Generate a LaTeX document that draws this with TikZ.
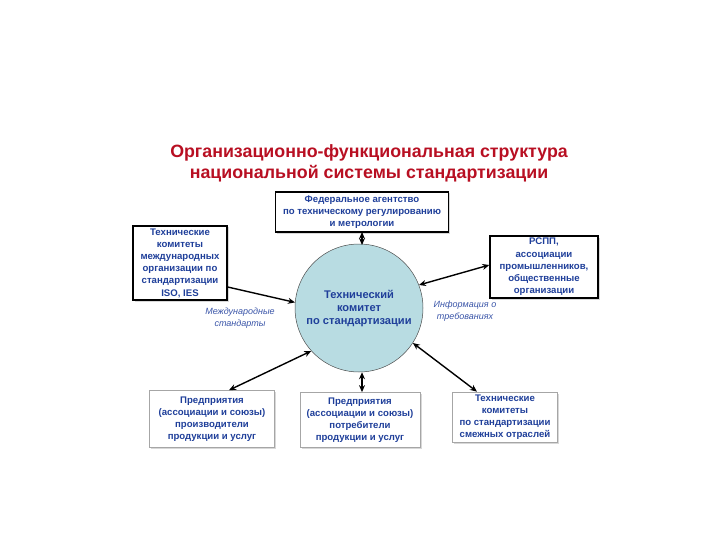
\documentclass[tikz,border=0pt]{standalone}
\usepackage{fontspec}
\setmainfont{Liberation Sans}
\usetikzlibrary{arrows.meta,shadows}
\definecolor{ttl}{HTML}{B80F22}
\definecolor{txt}{HTML}{1F3F9A}
\definecolor{lbl}{HTML}{3A55A8}
\definecolor{circ}{HTML}{B8DCE2}
\tikzset{
  box/.style={draw=black, line width=1.3pt, fill=white, align=center, inner sep=2pt,
    font=\fontsize{9.6}{12.2}\selectfont\bfseries, text=txt,
    drop shadow={shadow xshift=1.5pt, shadow yshift=-1.5pt, fill=gray!60}},
  lbox/.style={box, draw=gray!70, line width=0.7pt},
  conn/.style={line width=1.4pt, {Stealth[length=7pt,width=6pt]}-{Stealth[length=7pt,width=6pt]}},
  oneway/.style={line width=1.4pt, -{Stealth[length=7pt,width=6pt]}},
  itl/.style={align=center, font=\fontsize{9}{11.5}\selectfont\itshape, text=lbl}
}
\begin{document}
\begin{tikzpicture}[x=1pt,y=-1pt]
\useasboundingbox (0,0) rectangle (720,540);
\node[align=center, font=\fontsize{17.8}{21}\selectfont\bfseries, text=ttl] (title) at (369,163)
  {Организационно-функциональная структура\\национальной системы стандартизации};
\node[circle, draw=black!70, line width=0.5pt, fill=circ, minimum size=128pt, inner sep=0pt] (tc) at (359,308) {};
\node[align=center, font=\fontsize{11.1}{13}\selectfont\bfseries, text=txt] (tctext) at (359,309)
  {Технический\\комитет\\по стандартизации};
\node[box, minimum width=173pt, minimum height=40pt] (fed) at (362,212)
  {Федеральное агентство\\по техническому регулированию\\и метрологии};
\node[box, minimum width=94pt, minimum height=74pt] (iso) at (180,263)
  {Технические\\комитеты\\международных\\организации по\\стандартизации\\ISO, IES};
\node[box, minimum width=108pt, minimum height=62pt] (rspp) at (544,267)
  {РСПП,\\ассоциации\\промышленников,\\общественные\\организации};
\node[lbox, minimum width=125pt, minimum height=57pt] (prod) at (212,419)
  {Предприятия\\(ассоциации и союзы)\\производители\\продукции и услуг};
\node[lbox, minimum width=120pt, minimum height=55pt] (cons) at (360,420)
  {Предприятия\\(ассоциации и союзы)\\потребители\\продукции и услуг};
\node[lbox, minimum width=105pt, minimum height=50pt] (adj) at (505,417)
  {Технические\\комитеты\\по стандартизации\\смежных отраслей};
\node[itl] (intl) at (240,318) {Международные\\стандарты};
\node[itl] (info) at (465,311) {Информация о\\требованиях};
\coordinate (ftop) at (362,232);
\coordinate (fbot) at (362,245);
\draw[conn] (ftop) -- (fbot);
\draw[oneway] (iso.east |- 0,287) -- (tc.175);
\draw[conn] (tc.21) -- (rspp.west |- 0,265);
\draw[conn] (tc.222) -- (prod.north -| 229,0);
\draw[conn] (tc.south -| 362,0) -- (cons.north -| 362,0);
\draw[conn] (tc.327) -- (adj.north -| 477,0);
\end{tikzpicture}
\end{document}
